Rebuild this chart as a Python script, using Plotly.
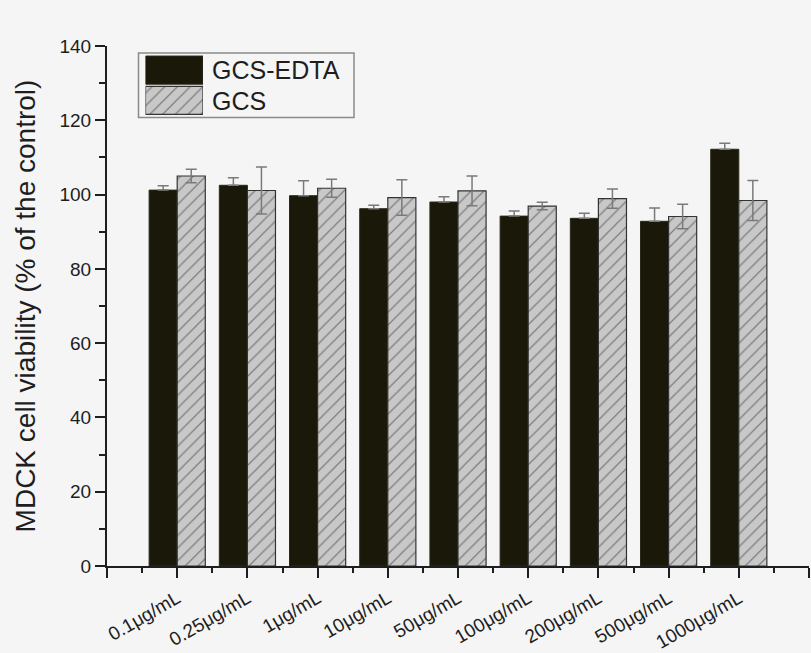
import plotly.graph_objects as go

# Concentrations tested and MDCK viability (% of control), mean and SD
concentrations = ["0.1μg/mL", "0.25μg/mL", "1μg/mL", "10μg/mL", "50μg/mL",
                  "100μg/mL", "200μg/mL", "500μg/mL", "1000μg/mL"]
gcs_edta_mean = [101.2, 102.5, 99.7, 96.2, 98.0, 94.2, 93.6, 92.8, 112.2]
gcs_edta_sd = [1.2, 2.0, 4.0, 0.9, 1.4, 1.4, 1.4, 3.6, 1.6]
gcs_mean = [105.0, 101.1, 101.7, 99.2, 101.0, 96.9, 98.9, 94.1, 98.4]
gcs_sd = [1.8, 6.3, 2.4, 4.8, 4.0, 1.0, 2.6, 3.3, 5.4]
series_names = ["GCS-EDTA", "GCS"]
y_ticks = [0, 20, 40, 60, 80, 100, 120, 140]

W, H = 811, 653
M_L, M_R, M_T, M_B = 107, 2, 46, 87
FONT = "Arial, Liberation Sans, sans-serif"
INK = "#1e1e1e"
BG = "#f5f5f5"
BLACK_FILL = "#1a1808"
GREY_FILL = "#c8c8c8"
ERR = "#7a7a7a"

PW, PH = W - M_L - M_R, H - M_T - M_B


def px_x(px):
    return (px - M_L) / PW


def px_y(py):
    return (H - M_B - py) / PH


x_pos = list(range(1, len(concentrations) + 1))

fig = go.Figure()
fig.add_trace(go.Bar(
    x=x_pos, y=gcs_edta_mean, name=series_names[0], showlegend=False,
    marker=dict(color=BLACK_FILL, line=dict(color="#2a2818", width=1)),
    error_y=dict(type="data", symmetric=False, array=gcs_edta_sd,
                 arrayminus=[0] * len(gcs_edta_sd),
                 color=ERR, thickness=1.5, width=5.5),
))
fig.add_trace(go.Bar(
    x=x_pos, y=gcs_mean, name=series_names[1], showlegend=False,
    marker=dict(color=GREY_FILL, line=dict(color="#333333", width=1.2),
                pattern=dict(shape="/", fillmode="overlay", fgcolor="#333333",
                             size=9, solidity=0.14)),
    error_y=dict(type="data", array=gcs_sd, color=ERR, thickness=1.5, width=5.5),
))

# Legend box drawn with its own small axes so the swatches can be large
sw_x0, sw_x1 = px_x(145.5), px_x(203)
sw_y0, sw_y1 = px_y(115.5), px_y(55)
fig.add_trace(go.Bar(
    x=[1], y=[1], orientation="h", xaxis="x2", yaxis="y2", showlegend=False,
    width=0.93, offset=-0.465, hoverinfo="skip",
    marker=dict(color=BLACK_FILL, line=dict(color="#2a2818", width=1)),
))
fig.add_trace(go.Bar(
    x=[1], y=[0], orientation="h", xaxis="x2", yaxis="y2", showlegend=False,
    width=0.93, offset=-0.465, hoverinfo="skip",
    marker=dict(color=GREY_FILL, line=dict(color="#333333", width=1.2),
                pattern=dict(shape="/", fillmode="overlay", fgcolor="#333333",
                             size=9, solidity=0.14)),
))

fig.add_shape(type="rect", xref="paper", yref="paper",
              x0=px_x(138.5), x1=px_x(354), y0=px_y(117.5), y1=px_y(53),
              line=dict(color="#8a8a8a", width=1.5), fillcolor=BG, layer="below")

for name, cy in zip(series_names, [70, 101]):
    fig.add_annotation(text=name, xref="paper", yref="paper",
                       x=px_x(210), y=px_y(cy), xanchor="left", yanchor="middle",
                       showarrow=False, font=dict(family=FONT, size=25, color=INK))

axis_common = dict(showline=True, linecolor=INK, linewidth=2, ticks="outside",
                   tickcolor=INK, tickwidth=2, ticklen=10, showgrid=False,
                   zeroline=False, mirror=False, automargin=False)

fig.update_layout(
    width=W, height=H,
    margin=dict(l=M_L, r=M_R, t=M_T, b=M_B, pad=0, autoexpand=False),
    paper_bgcolor=BG, plot_bgcolor=BG,
    barmode="group", bargap=0.2, bargroupgap=0,
    font=dict(family=FONT, color=INK),
    xaxis=dict(
        **axis_common,
        range=[0, len(concentrations) + 1],
        tickmode="array",
        tickvals=list(range(0, len(concentrations) + 2)),
        ticktext=[""] + concentrations + [""],
        tickangle=-30,
        tickfont=dict(family=FONT, size=19, color=INK),
        ticklabelstandoff=2,
        minor=dict(ticks="outside", ticklen=5, tickwidth=2, tickcolor=INK,
                   tickmode="array",
                   tickvals=[i + 0.5 for i in range(0, len(concentrations) + 1)]),
    ),
    yaxis=dict(
        **axis_common,
        range=[y_ticks[0], y_ticks[-1]],
        tickmode="array", tickvals=y_ticks,
        tickfont=dict(family=FONT, size=19, color=INK),
        minor=dict(ticks="outside", ticklen=6, tickwidth=2, tickcolor=INK, dtick=10),
        title=dict(text="MDCK cell viability (% of the control)",
                   font=dict(family=FONT, size=28, color=INK), standoff=16),
    ),
    xaxis2=dict(domain=[sw_x0, sw_x1], anchor="y2", range=[0, 1], visible=False,
                fixedrange=True),
    yaxis2=dict(domain=[sw_y0, sw_y1], anchor="x2", range=[-0.5, 1.5], visible=False,
                fixedrange=True),
)

fig.write_html("out.html")
